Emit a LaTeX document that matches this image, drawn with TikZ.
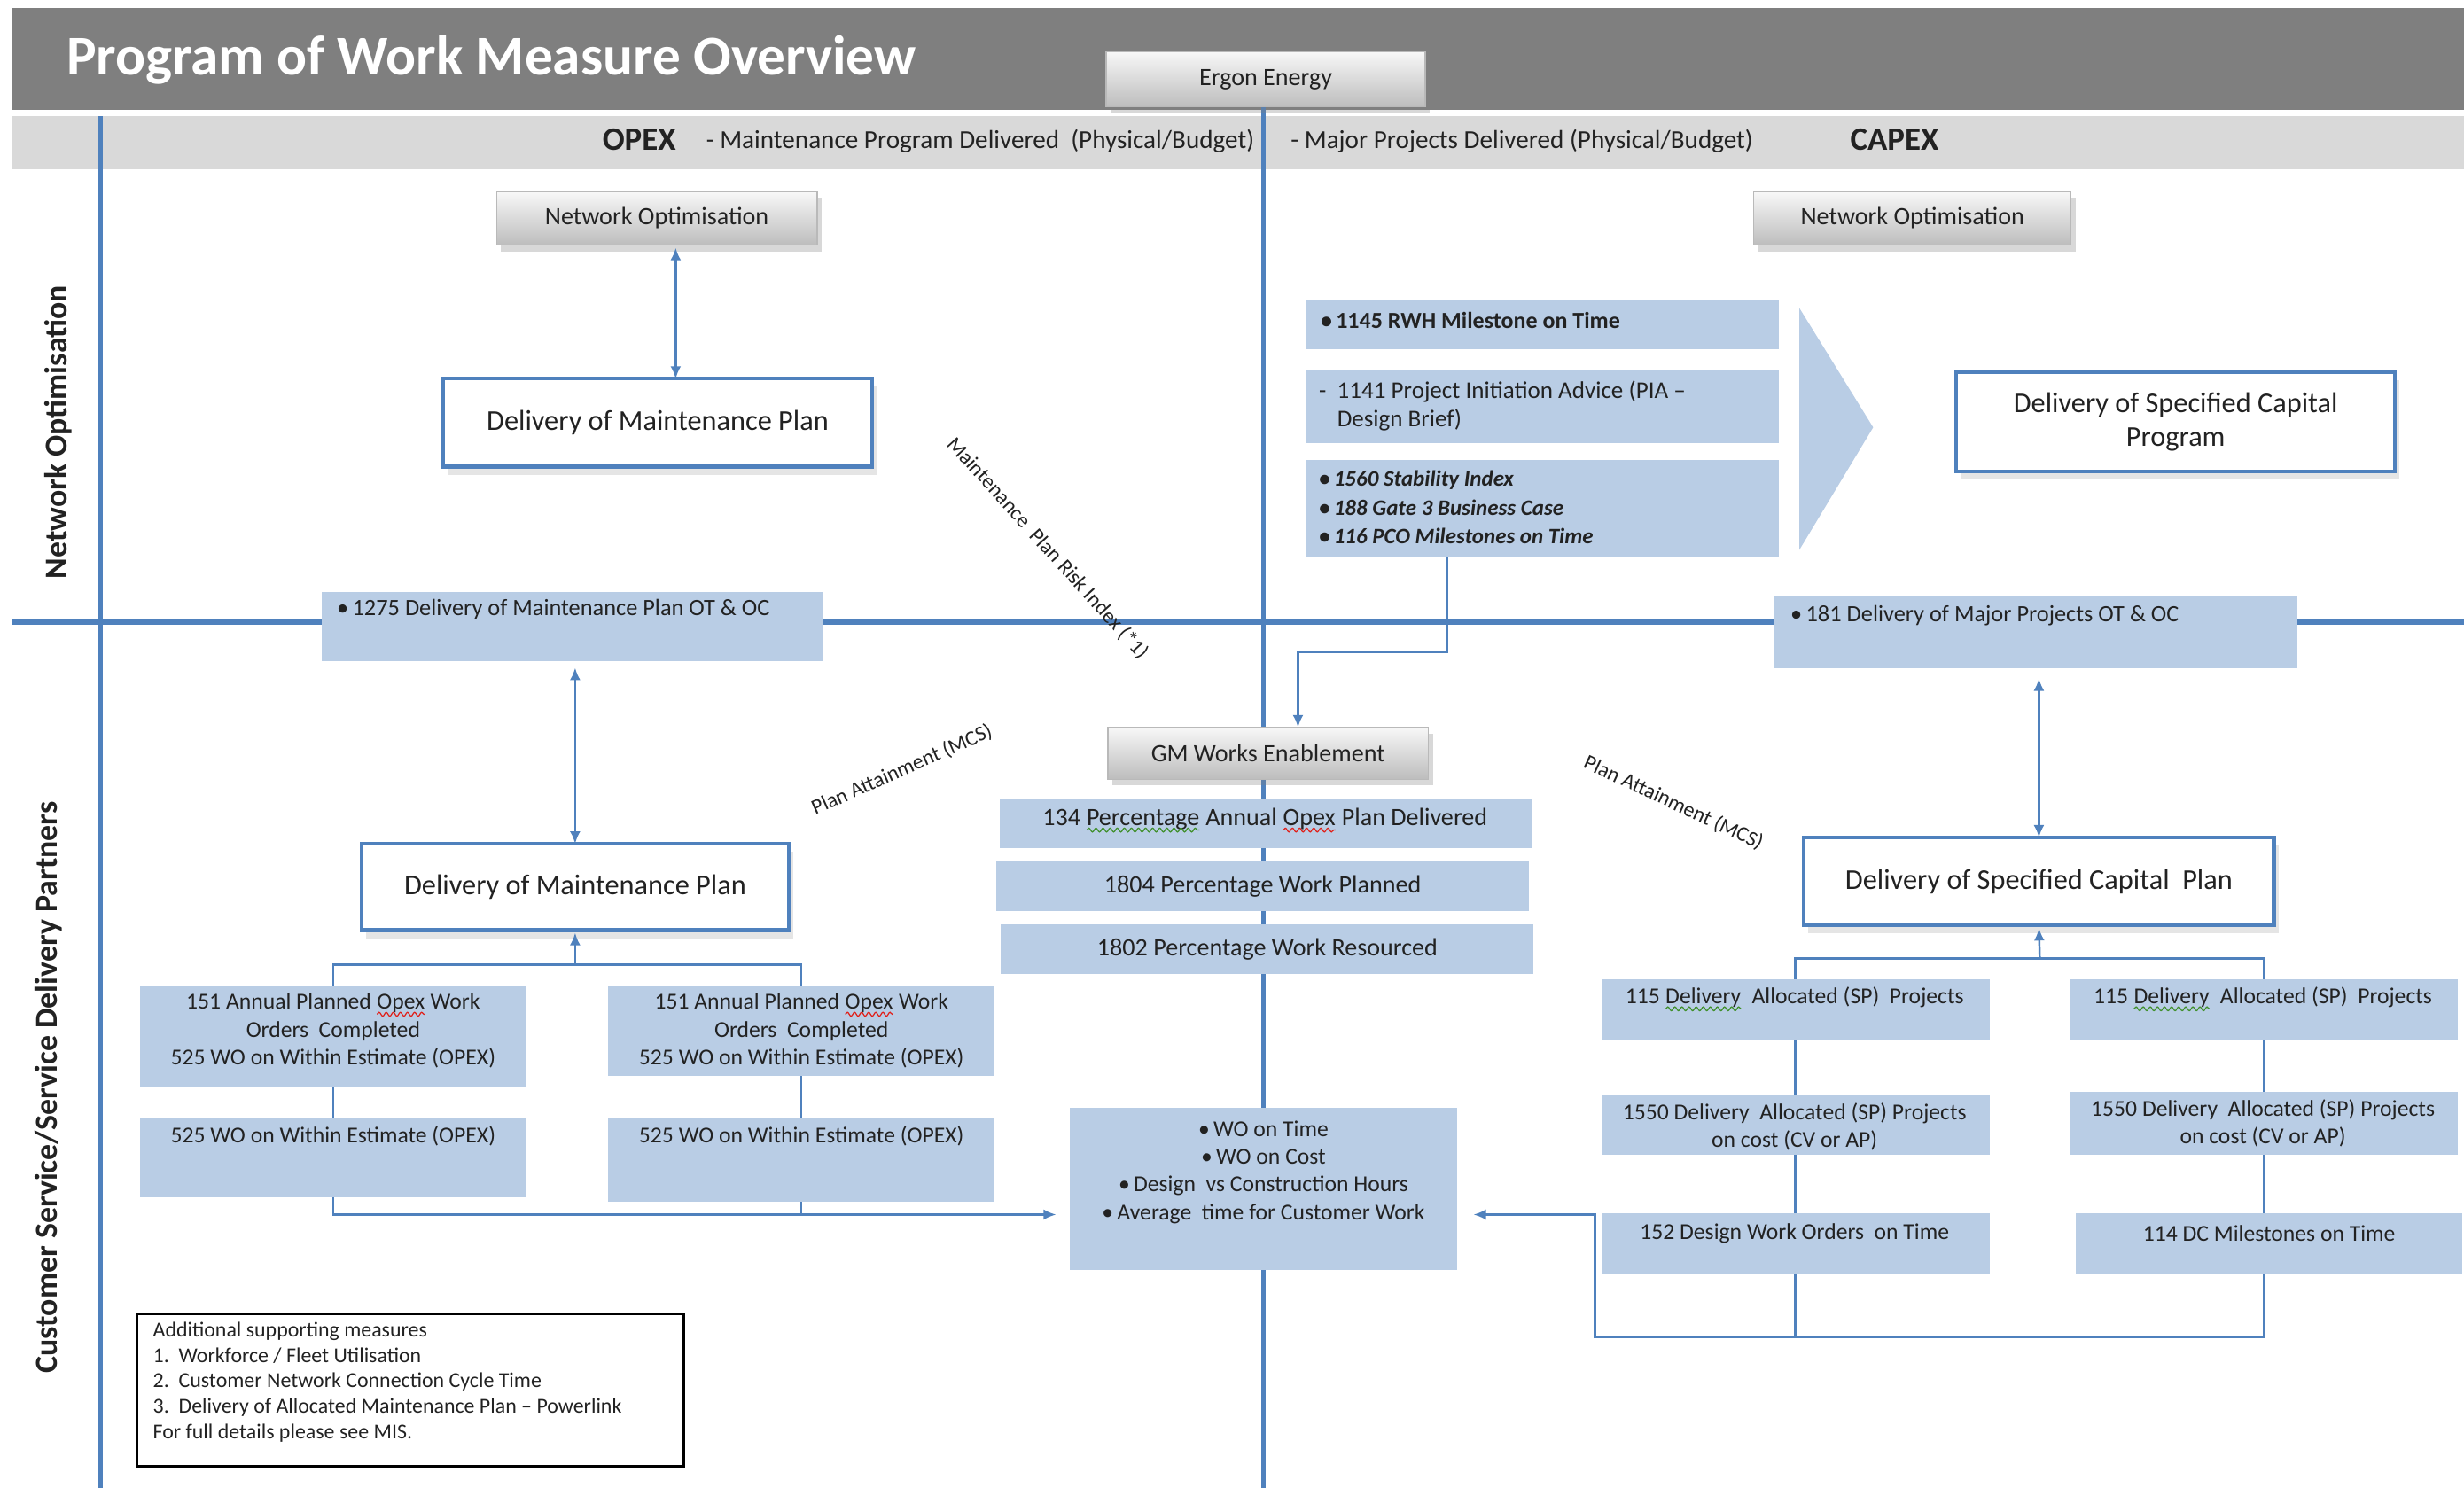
\documentclass[tikz,border=0pt]{standalone}
\usepackage{fontspec}
\setmainfont{Carlito}
\usetikzlibrary{arrows.meta,fit,shadows,calc,decorations.pathmorphing}

\definecolor{barGray}{HTML}{7F7F7F}
\definecolor{bandGray}{HTML}{D9D9D9}
\definecolor{lineBlue}{HTML}{4F81BD}
\definecolor{measureBlue}{HTML}{B9CDE5}
\definecolor{ink}{HTML}{222222}
\definecolor{spellRed}{HTML}{E0201A}
\definecolor{spellGreen}{HTML}{3F8F2A}

\tikzset{
  gridline/.style={draw=lineBlue, line width=1.5pt},
  conn/.style={draw=lineBlue, line width=0.7pt},
  tipend/.style={-{Latex[length=1.4mm,width=1.2mm]}},
  tipboth/.style={{Latex[length=1.4mm,width=1.2mm]}-{Latex[length=1.4mm,width=1.2mm]}},
  panel/.style={inner sep=0pt, outer sep=0pt},
  measure/.style={panel, fill=measureBlue},
  keybox/.style={panel, fill=white, draw=lineBlue, line width=1.2pt,
    drop shadow={opacity=0.2, shadow xshift=0.5mm, shadow yshift=-0.9mm}},
  button/.style={panel, top color=gray!6, bottom color=gray!52, draw=gray!55, line width=0.4pt,
    drop shadow={opacity=0.3, shadow xshift=0.5mm, shadow yshift=-0.7mm}},
  lbl/.style={inner sep=0pt, text=ink},
  fnote/.style={font=\fontsize{6.8}{8.2}\selectfont},
  fsmall/.style={font=\fontsize{7.3}{8.9}\selectfont},
  fmeas/.style={font=\fontsize{7.5}{9}\selectfont},
  fmid/.style={font=\fontsize{8}{9.4}\selectfont},
  fband/.style={font=\fontsize{8.3}{9.6}\selectfont},
  fkey/.style={font=\fontsize{9.2}{11}\selectfont},
  fhead/.style={font=\fontsize{10.5}{12}\selectfont\bfseries},
  fside/.style={font=\fontsize{10.2}{12}\selectfont\bfseries},
  fdiag/.style={font=\fontsize{6.8}{8}\selectfont},
  spellwave/.style={line width=0.35pt, decorate,
    decoration={snake, amplitude=0.22mm, segment length=0.8mm}},
}

% a rectangular panel given by two corners: name, style, x1, y1, x2, y2
\newcommand\panelbox[6]{\node[#2, fit={(#3,#4) (#5,#6)}] (#1) {};}
% the same with a text set in its centre: ..., text style, text
\newcommand\panelat[8]{\panelbox{#1}{#2}{#3}{#4}{#5}{#6}%
  \node[lbl, #7] (#1-t) at (#1.center) {#8};}
% a word with a proofing wave beneath it
\newcommand\spellmark[2]{\tikz[baseline=(spellword.base)]{%
  \node[inner sep=0pt, outer sep=0pt] (spellword) {#2};
  \draw[#1, spellwave] ([yshift=-0.55mm]spellword.base west) -- ([yshift=-0.55mm]spellword.base east);}}

\begin{document}
\begin{tikzpicture}[x=0.1773mm,y=-0.1773mm]
\useasboundingbox (0,0) rectangle (1568,947);
\fill[white] (0,0) rectangle (1568,947);

% header bar and OPEX/CAPEX band
\panelbox{bar}{panel, fill=barGray}{8}{5}{1568}{70}
\panelbox{band}{panel, fill=bandGray}{8}{74}{1568}{108}
\node[lbl, anchor=west, text=white, font=\fontsize{18}{20}\selectfont\bfseries] (title) at (42,38) {Program of Work Measure Overview};

\node[lbl, anchor=west, fhead] (opex) at (383,89) {OPEX};
\node[lbl, anchor=west, fband] (opexd) at (449,90) {- Maintenance Program Delivered\ \ (Physical/Budget)};
\node[lbl, anchor=west, fband] (capexd) at (821,90) {- Major Projects Delivered (Physical/Budget)};
\node[lbl, anchor=west, fhead] (capex) at (1177,89) {CAPEX};

% quadrant lines
\draw[gridline] (64,74) -- (64,947);
\draw[gridline] (804,68) -- (804,947);
\draw[gridline] (8,396) -- (1568,396);

\panelat{ergon}{button}{704}{33}{907}{68}{fmid}{Ergon Energy}

% side headings
\node[lbl, rotate=90, fside] (sideNO) at (37,275) {Network Optimisation};
\node[lbl, rotate=90, fside] (sideCS) at (31,692) {Customer Service/Service Delivery Partners};

% ---------- OPEX, network optimisation ----------
\panelat{noL}{button}{316}{122}{520}{156}{fmid}{Network Optimisation}
\panelat{dmpA}{keybox}{282}{241}{555}{297}{fkey}{Delivery of Maintenance Plan}
\panelbox{m1275}{measure}{205}{377}{524}{421}
\node[lbl, anchor=west, fmeas] (m1275-t) at (214,388) {\textbullet\,1275 Delivery of Maintenance Plan OT \& OC};

\node[lbl, rotate=-48, fdiag] (riskIdx) at (667,349) {Maintenance\ \ Plan Risk Index (*1)};
\node[lbl, rotate=24, fdiag] (paL) at (574,490) {Plan Attainment (MCS)};
\node[lbl, rotate=-25, fdiag] (paR) at (1065,511) {Plan Attainment (MCS)};

% ---------- OPEX, customer service ----------
\panelat{dmpB}{keybox}{230}{537}{502}{592}{fkey}{Delivery of Maintenance Plan}
\panelbox{a1}{measure}{89}{627}{335}{692}
\panelbox{a2}{measure}{387}{627}{633}{685}
\node[lbl, fsmall, align=center] (a1-t) at (212,656) {151 Annual Planned \spellmark{spellRed}{Opex} Work\\Orders\ \ Completed\\525 WO on Within Estimate (OPEX)};
\node[lbl, fsmall, align=center] (a2-t) at (510,656) {151 Annual Planned \spellmark{spellRed}{Opex} Work\\Orders\ \ Completed\\525 WO on Within Estimate (OPEX)};
\panelbox{b1}{measure}{89}{711}{335}{762}
\panelbox{b2}{measure}{387}{711}{633}{765}
\node[lbl, fsmall] (b1-t) at (212,723) {525 WO on Within Estimate (OPEX)};
\node[lbl, fsmall] (b2-t) at (510,723) {525 WO on Within Estimate (OPEX)};

% ---------- centre column ----------
\panelat{gm}{button}{705}{463}{909}{496}{fmid}{GM Works Enablement}
\panelbox{p134}{measure}{636}{509}{975}{540}
\node[lbl, fmid] (p134-t) at (805,522) {134 \spellmark{spellGreen}{Percentage} Annual \spellmark{spellRed}{Opex} Plan Delivered};
\panelat{p1804}{measure}{634}{548}{973}{580}{fmid}{1804 Percentage Work Planned}
\panelat{p1802}{measure}{637}{588}{976}{620}{fmid}{1802 Percentage Work Resourced}
\panelbox{wo}{measure}{681}{705}{927}{808}
\node[lbl, fsmall, align=center] (wo-t) at (804,746) {\textbullet\,WO on Time\\\textbullet\,WO on Cost\\\textbullet\,Design\ \ vs Construction Hours\\\textbullet\,Average\ \ time for Customer Work};

% ---------- CAPEX, network optimisation ----------
\panelat{noR}{button}{1116}{122}{1318}{156}{fmid}{Network Optimisation}
\panelbox{m1145}{measure}{831}{191}{1132}{222}
\node[lbl, anchor=west, font=\fontsize{7.4}{9}\selectfont\bfseries] (m1145-t) at (840,204) {\textbullet\,1145 RWH Milestone on Time};
\panelbox{m1141}{measure}{831}{236}{1132}{282}
\node[lbl, anchor=north west, font=\fontsize{7.7}{9.2}\selectfont, align=left] (m1141-t) at (839,242) {-\ \ 1141 Project Initiation Advice (PIA –\\\phantom{-\ \ }Design Brief)};
\panelbox{m3}{measure}{831}{293}{1132}{355}
\node[lbl, anchor=north west, font=\fontsize{7.1}{9.3}\selectfont\bfseries\itshape, align=left] (m3-t) at (839,299) {\textbullet\,1560 Stability Index\\\textbullet\,188 Gate 3 Business Case\\\textbullet\,116 PCO Milestones on Time};
\fill[measureBlue] (1145,196) -- (1192,272) -- (1145,350) -- cycle;
\panelat{dscp}{keybox}{1245}{237}{1524}{300}{fkey, align=center}{Delivery of Specified Capital\\Program}
\panelbox{m181}{measure}{1129}{379}{1462}{425}
\node[lbl, anchor=west, fmeas] (m181-t) at (1139,392) {\textbullet\,181 Delivery of Major Projects OT \& OC};

% ---------- CAPEX, customer service ----------
\panelat{dsplan}{keybox}{1148}{533}{1447}{589}{fkey}{Delivery of Specified Capital\ \ Plan}
\panelbox{c1}{measure}{1019}{623}{1266}{662}
\panelbox{c2}{measure}{1317}{623}{1564}{662}
\node[lbl, fsmall] (c1-t) at (1142,636) {115 \spellmark{spellGreen}{Delivery}\ \ Allocated (SP)\ \ Projects};
\node[lbl, fsmall] (c2-t) at (1440,636) {115 \spellmark{spellGreen}{Delivery}\ \ Allocated (SP)\ \ Projects};
\panelbox{d1}{measure}{1019}{697}{1266}{735}
\panelbox{d2}{measure}{1317}{695}{1564}{735}
\node[lbl, fsmall, align=center] (d1-t) at (1142,717) {1550 Delivery\ \ Allocated (SP) Projects\\on cost (CV or AP)};
\node[lbl, fsmall, align=center] (d2-t) at (1440,715) {1550 Delivery\ \ Allocated (SP) Projects\\on cost (CV or AP)};
\panelbox{e1}{measure}{1019}{772}{1266}{811}
\panelbox{e2}{measure}{1321}{772}{1567}{811}
\node[lbl, fsmall] (e1-t) at (1142,785) {152 Design Work Orders\ \ on Time};
\node[lbl, fsmall] (e2-t) at (1444,785) {114 DC Milestones on Time};

% ---------- note ----------
\panelbox{note}{panel, draw=black, line width=0.8pt, fill=white}{87}{836}{435}{933}
\node[lbl, anchor=north west, fnote, align=left] (note-t) at (97,841) {Additional supporting measures\\1.\ \ Workforce / Fleet Utilisation\\2.\ \ Customer Network Connection Cycle Time\\3.\ \ Delivery of Allocated Maintenance Plan – Powerlink\\For full details please see MIS.};

% ---------- connectors ----------
\coordinate (xNO) at (430,0);
\draw[conn, tipboth, shorten <=0.3mm] (noL.south -| xNO) -- (dmpA.north -| xNO);

\draw[conn, tipboth, shorten <=0.7mm] (m1275.south -| dmpB.north) -- (dmpB.north);
\coordinate (jL) at (366,614);
\draw[conn, tipend, shorten >=0.3mm] (jL) -- (dmpB.south);
\draw[conn] (a1.north) |- (jL) -| (a2.north);
\draw[conn] (a1.south) -- (b1.north);
\draw[conn] (a2.south) -- (b2.north);
\coordinate (yWO) at (0,773);
\draw[conn, tipend, shorten >=1.6mm] (b1.south) |- (wo.west |- yWO);
\draw[conn] (b2.south) -- (b2.south |- yWO);

\coordinate (turn) at (921,415);
\coordinate (xGM) at (826,0);
\draw[conn, tipend] (m3.south -| turn) -- (turn) -| (gm.north -| xGM);

\draw[conn, tipboth, shorten <=1.2mm] (m181.south -| dsplan.north) -- (dsplan.north);
\coordinate (jR) at (1298,610);
\draw[conn, tipend, shorten >=0.3mm] (jR) -- (dsplan.south);
\draw[conn] (c1.north) |- (jR) -| (c2.north);
\draw[conn] (c1.south) -- (d1.north);
\draw[conn] (d1.south) -- (e1.north);
\draw[conn] (c2.south) -- (d2.north);
\draw[conn] (d2.south) -- (d2.south |- e2.north);
\coordinate (rb) at (1015,851);
\draw[conn] (e1.south) -- (e1.south |- rb);
\draw[conn, tipend, shorten >=1.9mm] (d2.south |- e2.south) |- (rb) |- (wo.east |- yWO);
\end{tikzpicture}
\end{document}
